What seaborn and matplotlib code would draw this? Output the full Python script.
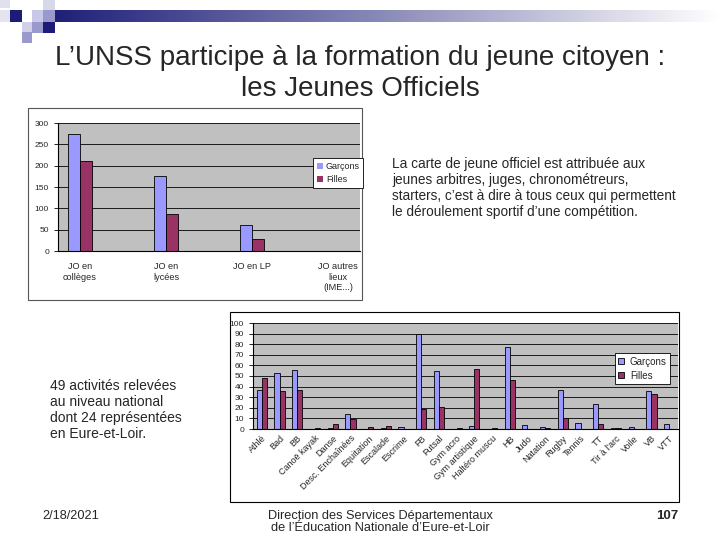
import seaborn as sns
import matplotlib.pyplot as plt
import pandas as pd
import numpy as np
from matplotlib.patches import Rectangle

# Jeunes officiels by place
lieux = ["JO en\ncollèges", "JO en\nlycées", "JO en LP", "JO autres\nlieux\n(IME...)"]
lieux_garcons = [275, 175, 60, 0]
lieux_filles = [211, 86, 27, 0]

# Jeunes officiels by activity
activites = ["Athlé", "Bad", "BB", "Canoë kayak", "Danse", "Desc. Enchaînées",
             "Equitation", "Escalade", "Escrime", "FB", "Futsal", "Gym acro",
             "Gym artistique", "Haltéro muscu", "HB", "Judo", "Natation", "Rugby",
             "Tennis", "TT", "Tir à l'arc", "Voile", "VB", "VTT"]
act_garcons = [37, 53, 56, 0, 1, 14, 0, 0.5, 2, 90, 55, 0,
               3, 0, 77, 4, 2, 37, 6, 24, 1, 2, 36, 5]
act_filles = [48, 36, 37, 1, 5, 9, 2, 3, 0, 19, 21, 1,
              57, 1, 46, 0, 1, 10, 0, 5, 0.5, 0, 33, 0]

couleurs = ["#9999FF", "#993366"]

sns.set_style("white")
plt.rcParams['font.family'] = ['Liberation Sans', 'DejaVu Sans']

fig = plt.figure(figsize=(7.2, 5.4), dpi=100)

# background layer in pixel coordinates
bg = fig.add_axes([0, 0, 1, 1])
bg.set_xlim(0, 720)
bg.set_ylim(540, 0)
bg.axis("off")

# gradient header bar
grad = np.linspace(0, 1, 256).reshape(1, -1)
bg.imshow(grad, extent=[43, 720, 22, 10], aspect="auto",
          cmap=sns.blend_palette(["#1c1c78", "#8a8ab8", "#ffffff"], as_cmap=True))
# little squares top left
carres = [(0, 0, 10, 8, "#e0e0f0"), (0, 10, 10, 12, "#e4e4f0"),
          (10, 10, 12, 12, "#1c1c78"), (32, 10, 11, 12, "#c8c8e8"),
          (43, 10, 12, 12, "#9999cc"), (43, 22, 12, 11, "#1c1c78"),
          (43, 0, 12, 10, "#d8d8ec"), (32, 22, 11, 11, "#9999cc"),
          (22, 22, 10, 10, "#d0d0e8"), (22, 32, 10, 11, "#9999cc")]
for x, y, w, h, c in carres:
    bg.add_patch(Rectangle((x, y), w, h, color=c, lw=0))

# chart frames
bg.add_patch(Rectangle((28, 108), 334, 192, fill=False, ec="#555555", lw=0.8))
bg.add_patch(Rectangle((230, 312), 449, 190, fill=False, ec="black", lw=0.8))

# title and texts
bg.text(360, 58, "L’UNSS participe à la formation du jeune citoyen :",
        ha="center", va="center", fontsize=20)
bg.text(360, 89, "les Jeunes Officiels", ha="center", va="center", fontsize=20)
bg.text(392, 188, "La carte de jeune officiel est attribuée aux\n"
        "jeunes arbitres, juges, chronométreurs,\n"
        "starters, c’est à dire à tous ceux qui permettent\n"
        "le déroulement sportif d’une compétition.",
        ha="left", va="center", fontsize=9.8, linespacing=1.2)
bg.text(50, 410, "49 activités relevées\nau niveau national\n"
        "dont 24 représentées\nen Eure-et-Loir.",
        ha="left", va="center", fontsize=10, linespacing=1.2)
bg.text(42, 516, "2/18/2021", ha="left", va="center", fontsize=9.2)
bg.text(380, 522, "Direction des Services Départementaux\n"
        "de l’Éducation Nationale d’Eure-et-Loir",
        ha="center", va="center", fontsize=9.2, linespacing=1.1)
bg.text(678, 516, "107", ha="right", va="center", fontsize=9.5, weight="bold")


def excel_axes(ax, ymax, step, fs):
    ax.set_facecolor("#C0C0C0")
    ax.set_ylim(0, ymax)
    ax.set_yticks(np.arange(0, ymax + 1, step))
    ax.yaxis.grid(True, color="black", lw=0.6)
    ax.set_axisbelow(True)
    for s in ["top", "right"]:
        ax.spines[s].set_visible(False)
    for s in ["left", "bottom"]:
        ax.spines[s].set_color("black")
        ax.spines[s].set_linewidth(0.8)
    ax.tick_params(axis="x", which="minor", length=3, color="black", width=0.6)
    ax.tick_params(axis="x", which="major", length=0, labelsize=fs)
    ax.tick_params(axis="y", length=3, color="black", width=0.6, labelsize=fs, left=True)
    ax.set_xlabel("")
    ax.set_ylabel("")


# top chart
df1 = pd.DataFrame({
    "lieu": lieux * 2,
    "val": lieux_garcons + lieux_filles,
    "sexe": ["Garçons"] * len(lieux) + ["Filles"] * len(lieux),
})
ax1 = fig.add_axes([58 / 720, 1 - 251 / 540, 302 / 720, 128 / 540])
sns.barplot(data=df1, x="lieu", y="val", hue="sexe", palette=couleurs,
            width=0.29, edgecolor="black", linewidth=0.6, ax=ax1, saturation=1)
excel_axes(ax1, 300, 50, 6)
ax1.set_xlim(-0.256, 3.256)
ax1.set_xticks([0.244, 1.256, 1.756, 2.256], minor=True)
ax1.tick_params(axis="x", which="major", labelsize=6.6, pad=8)
leg1 = ax1.legend(loc="upper left", bbox_to_anchor=(0.83, 0.76), fontsize=6.5,
                  frameon=True, fancybox=False, edgecolor="black",
                  handlelength=0.7, handleheight=0.7, handletextpad=0.3,
                  borderpad=0.4, labelspacing=0.5, framealpha=1)
leg1.get_frame().set_linewidth(0.6)
for p in leg1.get_patches():
    p.set_edgecolor("none")

# bottom chart
df2 = pd.DataFrame({
    "act": activites * 2,
    "val": act_garcons + act_filles,
    "sexe": ["Garçons"] * len(activites) + ["Filles"] * len(activites),
})
ax2 = fig.add_axes([253 / 720, 1 - 429 / 540, 425 / 720, 106 / 540])
sns.barplot(data=df2, x="act", y="val", hue="sexe", palette=couleurs,
            width=0.58, edgecolor="black", linewidth=0.6, ax=ax2, saturation=1)
excel_axes(ax2, 100, 10, 6)
ax2.set_xlim(-0.5, len(activites) - 0.5)
ax2.set_xticks(np.arange(-0.5, len(activites), 1), minor=True)
ax2.set_xticks(range(len(activites)))
ax2.set_xticklabels(activites, rotation=45, ha="right", rotation_mode="anchor",
                    fontsize=6.5)
leg2 = ax2.legend(loc="upper left", bbox_to_anchor=(0.84, 0.76), fontsize=7,
                  frameon=True, fancybox=False, edgecolor="black",
                  handlelength=0.6, handleheight=0.6, handletextpad=0.6,
                  borderpad=0.35, labelspacing=0.4, framealpha=1)
leg2.get_frame().set_linewidth(0.6)

fig.savefig("out.png", dpi=100)
